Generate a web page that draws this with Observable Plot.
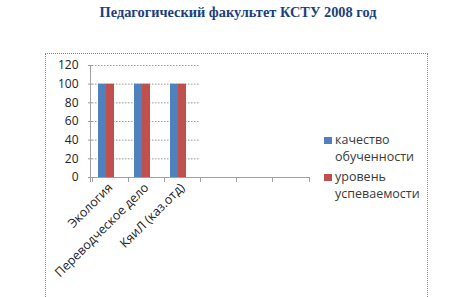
<!DOCTYPE html>
<html><head><meta charset="utf-8">
<script src="https://cdn.jsdelivr.net/npm/d3@7"></script>
<script src="https://cdn.jsdelivr.net/npm/@observablehq/plot@0.6"></script>
<style>
body{margin:0;background:#fff;width:472px;height:297px;overflow:hidden;position:relative;font-family:"Open Sans",sans-serif;}
#title{position:absolute;left:0;top:3px;width:476px;text-align:center;font-family:"Liberation Serif",serif;font-weight:bold;font-size:14px;color:#1c3f7c;line-height:18px;}
#box{position:absolute;left:45px;top:53px;width:381px;height:260px;border:1px dotted #888;}
#chart{position:absolute;left:0;top:53px;}
#legend{position:absolute;left:324px;top:132px;font-size:12.5px;color:#3a3a3a;line-height:16.5px;}
.li{position:relative;padding-left:11px;margin-bottom:4px;}
.sw{position:absolute;left:0;top:5px;width:8px;height:7px;}
</style></head><body>
<div id="title"><span id="tt"></span></div>
<div id="box"></div>
<div id="chart"></div>
<div id="legend"></div>
<script>
const titleText = "Педагогический факультет КСТУ 2008 год";
const categories = ["Экология", "Переводческое дело", "КяиЛ (каз.отд)", "c4", "c5", "c6"];
const categoryLabels = ["Экология", "Переводческое дело", "КяиЛ (каз.отд)", "", "", ""];
const seriesNames = ["качество обученности", "уровень успеваемости", "ряд3"];
const seriesColors = ["#4F81BD", "#C0504D", "#9BBB59"];
const quality = [100, 100, 100];
const progress = [100, 100, 100];
const yTicks = [0, 20, 40, 60, 80, 100, 120];

const tt = document.getElementById("tt");
tt.textContent = titleText;
// fit title to the reference's width (~277px)
const w0 = tt.getBoundingClientRect().width;
tt.parentNode.style.fontSize = (14 * 277 / w0).toFixed(2) + "px";

const data = [];
categories.slice(0, 3).forEach((c, i) => {
  data.push({cat: c, series: seriesNames[0], value: quality[i]});
  data.push({cat: c, series: seriesNames[1], value: progress[i]});
});

const plot = Plot.plot({
  width: 472, height: 244,
  marginLeft: 90, marginRight: 162, marginTop: 12, marginBottom: 120,
  style: {fontFamily: "Open Sans, sans-serif", fontSize: "11px", color: "#333", background: "transparent"},
  fx: {domain: categories, padding: 0, label: null},
  x: {domain: seriesNames, paddingInner: 0, paddingOuter: 0.75, axis: null},
  y: {domain: [0, 120], label: null},
  color: {domain: seriesNames, range: seriesColors},
  marks: [
    Plot.gridY(yTicks, {stroke: "#9a9a9a", strokeOpacity: 1, strokeDasharray: "1.5,1.5"}),
    Plot.axisY(yTicks, {tickSize: 4, tickPadding: 10, stroke: "#999", fontSize: 12, label: null, fill: "#222"}),
    Plot.barY(data, {fx: "cat", x: "series", y: "value", fill: "series"}),
    Plot.axisFx({anchor: "bottom", tickSize: 0, tickRotate: -45, tickPadding: 8, fontSize: 12.5, fill: "#222", label: null,
      tickFormat: d => categoryLabels[categories.indexOf(d)]})
  ]
});
document.getElementById("chart").appendChild(plot);

// axis line and boundary ticks drawn with the library's scales
const fx = plot.scale("fx"), y = plot.scale("y");
const svg = d3.select(plot);
const g = svg.append("g").attr("stroke", "#a0a0a0");
const y0 = y.apply(0), y1 = y.apply(120);
const r = fx.range;
g.append("line").attr("x1", r[0] + 0.5).attr("x2", r[0] + 0.5).attr("y1", y1).attr("y2", y0 + 5);
g.append("line").attr("x1", r[0]).attr("x2", r[1]).attr("y1", y0 + 0.5).attr("y2", y0 + 0.5);
categories.forEach(c => {
  const xx = Math.round(fx.apply(c)) + 0.5;
  g.append("line").attr("x1", xx).attr("x2", xx).attr("y1", y0).attr("y2", y0 + 5);
});
g.append("line").attr("x1", r[1] - 0.5).attr("x2", r[1] - 0.5).attr("y1", y0).attr("y2", y0 + 5);

const legend = document.getElementById("legend");
[["качество", "обученности"], ["уровень", "успеваемости"]].forEach((lines, i) => {
  const d = document.createElement("div");
  d.className = "li";
  d.innerHTML = `<span class="sw" style="background:${seriesColors[i]}"></span>${lines[0]}<br>${lines[1]}`;
  legend.appendChild(d);
});
</script>
</body></html>
